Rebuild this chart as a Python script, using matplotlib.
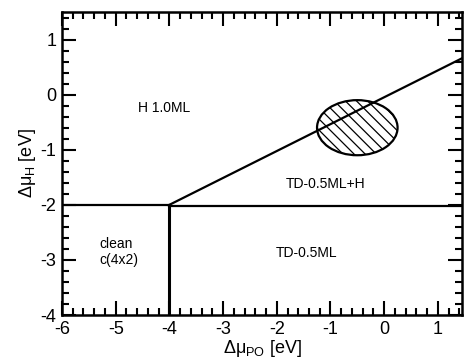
import matplotlib
matplotlib.use("Agg")
import matplotlib.pyplot as plt
from matplotlib.patches import Ellipse
from matplotlib.ticker import MultipleLocator

plt.rcParams['font.family'] = ['Liberation Sans', 'DejaVu Sans']
plt.rcParams['mathtext.fontset'] = 'custom'
plt.rcParams['mathtext.rm'] = 'Liberation Sans'
plt.rcParams['mathtext.it'] = 'Liberation Sans'
plt.rcParams['axes.unicode_minus'] = False
plt.rcParams['hatch.linewidth'] = 0.9

# phase boundaries (x = dmu_PO, y = dmu_H)
h_left_x = [-6.0, -4.0]
h_left_y = [-2.0, -2.0]
h_right_x = [-4.0, 1.45]
h_right_y = [-2.02, -2.02]
vert_x = [-4.0, -4.0]
vert_y = [-4.0, -2.0]
slope_x = [-4.0, 1.45]
slope_y = [-2.0, 0.66]

# hatched region
ell_center = (-0.5, -0.6)
ell_width = 1.5
ell_height = 1.0

labels = ["H 1.0ML", "TD-0.5ML+H", "TD-0.5ML", "clean\nc(4x2)"]
label_x = [-4.1, -1.1, -1.45, -5.3]
label_y = [-0.25, -1.62, -2.88, -2.85]
label_ha = ["center", "center", "center", "left"]

fig = plt.figure(figsize=(4.66, 3.62), dpi=100)
ax = fig.add_axes([62 / 466, 1 - 315 / 362, 400 / 466, 303 / 362])

ax.plot(h_left_x, h_left_y, color="black", lw=1.6)
ax.plot(h_right_x, h_right_y, color="black", lw=1.6)
ax.plot(vert_x, vert_y, color="black", lw=2.2)
ax.plot(slope_x, slope_y, color="black", lw=1.6)

ell = Ellipse(ell_center, ell_width, ell_height, facecolor="none",
              edgecolor="black", lw=1.6, hatch="\\\\\\")
ax.add_patch(ell)

for t, x, y, ha in zip(labels, label_x, label_y, label_ha):
    ax.text(x, y, t, ha=ha, va="center", fontsize=10)

ax.set_xlim(-6, 1.45)
ax.set_ylim(-4, 1.5)
ax.xaxis.set_major_locator(MultipleLocator(1))
ax.xaxis.set_minor_locator(MultipleLocator(0.2))
ax.yaxis.set_major_locator(MultipleLocator(1))
ax.yaxis.set_minor_locator(MultipleLocator(0.2))
ax.tick_params(which="both", direction="in", top=True, right=True, width=1.5)
ax.tick_params(which="major", length=10, labelsize=13, pad=4)
ax.tick_params(which="minor", length=5)
for s in ax.spines.values():
    s.set_linewidth(1.8)

ax.set_xlabel(r"$\Delta\mu_{\rm PO}$ [eV]", fontsize=13, labelpad=0)
ax.set_ylabel(r"$\Delta\mu_{\rm H}$ [eV]", fontsize=13, labelpad=2)

fig.savefig("out.png", dpi=100)
